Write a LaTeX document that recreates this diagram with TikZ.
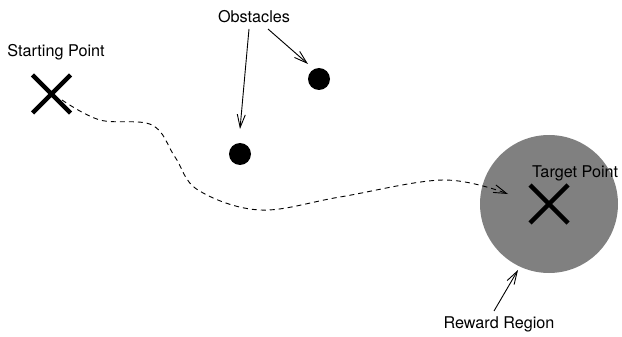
\documentclass[tikz,border=0pt]{standalone}
\usepackage{fontspec}
\setmainfont{TeX Gyre Heros}
\usetikzlibrary{arrows.meta}
\begin{document}
\begin{tikzpicture}[x=1pt,y=-1pt,
  lbl/.style={font=\fontsize{16.2}{19}\selectfont, inner sep=0pt},
  cross/.style={line width=4.5pt},
  dot/.style={circle, fill=black, minimum size=22pt, inner sep=0pt},
  pointer/.style={line width=0.9pt, -{Straight Barb[length=13pt,width=8pt,line width=0.9pt]}},
  pathline/.style={line width=0.9pt, dash pattern=on 5pt off 4pt, -{Straight Barb[length=13pt,width=8pt,line width=0.9pt]}}
]
\definecolor{rewardgray}{RGB}{128,128,128}
\useasboundingbox (0,0) rectangle (622,337);
% reward region
\node[circle, fill=rewardgray, minimum size=138pt, inner sep=0pt] (reward) at (549,204) {};
% crosses
\coordinate (sp) at (51.5,94);
\draw[cross] (32.5,75) -- (70.5,113) (32.5,113) -- (70.5,75);
\coordinate (tp) at (549,204);
\draw[cross] (530,185) -- (568,223) (530,223) -- (568,185);
% obstacles
\node[dot] (ob1) at (319,79) {};
\node[dot] (ob2) at (240,154) {};
% labels
\node[lbl] (stlbl) at (56,52) {Starting Point};
\node[lbl] (oblbl) at (254,17) {Obstacles};
\node[lbl, anchor=west] (tplbl) at (532,173) {Target Point};
\node[lbl] (rwlbl) at (499,324) {Reward Region};
% pointers
\coordinate (o1s) at (249,29);
\coordinate (o2s) at (268,29);
\draw[pointer] (o1s) -- (240,129);
\draw[pointer] (o2s) -- (308,64);
\coordinate (rws) at (494,311);
\draw[pointer] (rws) -- (518,270);
% path
\coordinate (pstart) at (62,100);
\coordinate (pend) at (508,194);
\draw[pathline] plot[smooth, tension=0.6] coordinates {(pstart) (100,120) (152,125) (175,157) (198,190) (260,210) (340,197) (443,180) (pend)};
\end{tikzpicture}
\end{document}
